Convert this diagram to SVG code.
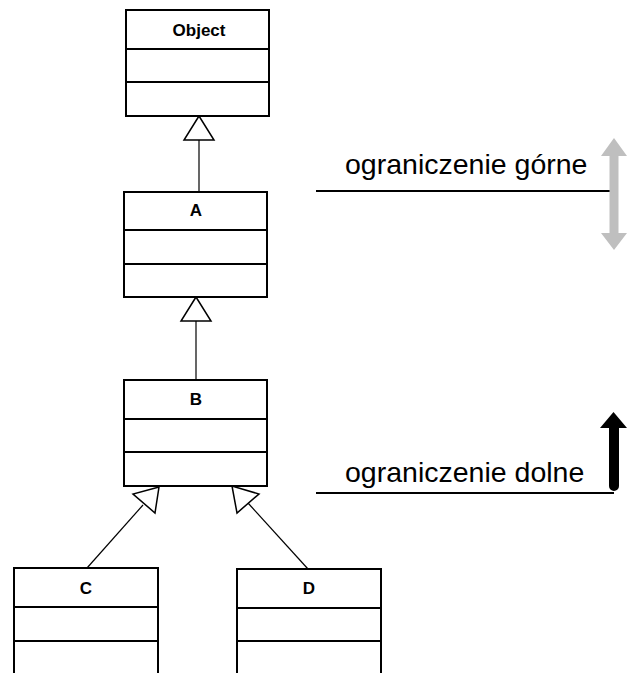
<svg xmlns="http://www.w3.org/2000/svg" width="629" height="673" viewBox="0 0 629 673">
  <style>
    .box { fill: #ffffff; stroke: #000000; stroke-width: 2; }
    .div { stroke: #000000; stroke-width: 2; }
    .name { font-family: "Liberation Sans", Arial, sans-serif; font-weight: bold; font-size: 17px; text-anchor: middle; fill: #000000; }
    .edge { stroke: #000000; stroke-width: 1.2; fill: none; }
    .head { fill: #ffffff; stroke: #000000; stroke-width: 1.5; stroke-linejoin: miter; }
    .note { font-family: "Liberation Sans", Arial, sans-serif; font-size: 28.5px; fill: #000000; }
    .rule { stroke: #000000; stroke-width: 2; }
  </style>

  <!-- inheritance connectors -->
  <g id="connectors">
    <line class="edge" x1="199" y1="140" x2="199" y2="198"/>
    <polygon class="head" points="199,116 184,140 214,140"/>
    <line class="edge" x1="196" y1="321" x2="196" y2="380"/>
    <polygon class="head" points="196,297 181,321 211,321"/>
    <line class="edge" x1="87" y1="568" x2="143" y2="505"/>
    <polygon class="head" points="159,487 133,494 155,513"/>
    <line class="edge" x1="308" y1="569" x2="248" y2="503"/>
    <polygon class="head" points="232,486 237,513 259,494"/>
  </g>

  <!-- class boxes -->
  <g id="node-object">
    <rect class="box" x="126" y="10" width="143" height="106"/>
    <line class="div" x1="126" y1="49" x2="269" y2="49"/>
    <line class="div" x1="126" y1="82" x2="269" y2="82"/>
    <text class="name" x="199" y="36">Object</text>
  </g>
  <g id="node-a">
    <rect class="box" x="124" y="192" width="143" height="105"/>
    <line class="div" x1="124" y1="230" x2="267" y2="230"/>
    <line class="div" x1="124" y1="264" x2="267" y2="264"/>
    <text class="name" x="196" y="216">A</text>
  </g>
  <g id="node-b">
    <rect class="box" x="124" y="380" width="143" height="106"/>
    <line class="div" x1="124" y1="419" x2="267" y2="419"/>
    <line class="div" x1="124" y1="452" x2="267" y2="452"/>
    <text class="name" x="196" y="405">B</text>
  </g>
  <g id="node-c">
    <rect class="box" x="14" y="568" width="144" height="120"/>
    <line class="div" x1="14" y1="607" x2="158" y2="607"/>
    <line class="div" x1="14" y1="641" x2="158" y2="641"/>
    <text class="name" x="86" y="594">C</text>
  </g>
  <g id="node-d">
    <rect class="box" x="237" y="569" width="144" height="120"/>
    <line class="div" x1="237" y1="608" x2="381" y2="608"/>
    <line class="div" x1="237" y1="641" x2="381" y2="641"/>
    <text class="name" x="309" y="594">D</text>
  </g>

  <!-- upper bound marker -->
  <g id="upper-bound">
    <text class="note" x="345" y="174">ograniczenie górne</text>
    <line class="rule" x1="316" y1="191" x2="612" y2="191"/>
    <polygon fill="#bfbfbf" points="614,138 627,156 618.5,156 618.5,233 627,233 614,250 601,233 609.5,233 609.5,156 601,156"/>
  </g>

  <!-- lower bound marker -->
  <g id="lower-bound">
    <text class="note" x="345" y="482">ograniczenie dolne</text>
    <line class="rule" x1="316" y1="493" x2="614" y2="493"/>
    <path fill="#000000" d="M613.5,412 L627,428 L619,428 L619,486 A5,5 0 0 1 609,486 L609,428 L600,428 Z"/>
  </g>
</svg>
